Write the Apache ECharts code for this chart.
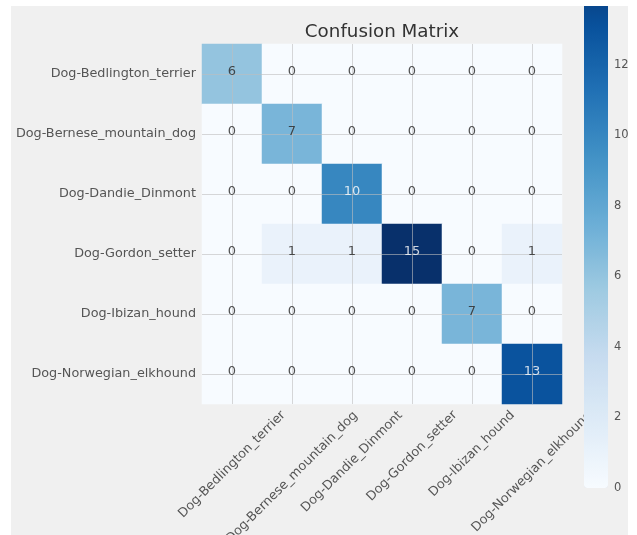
<!DOCTYPE html>
<html>
<head>
<meta charset="utf-8">
<script src="https://cdn.jsdelivr.net/npm/echarts@6/dist/echarts.min.js"></script>
<style>
  html, body { margin: 0; padding: 0; background: #ffffff; width: 637px; height: 535px; overflow: hidden; }
  #frame { position: absolute; left: 11px; top: 6px; width: 617px; height: 529px; overflow: hidden; background: #f0f0f0; }
  #chart { position: absolute; left: 0; top: -60px; width: 617px; height: 589px; }
</style>
</head>
<body>
<div id="frame"><div id="chart"></div></div>
<script>
// Class names (true labels on rows, predicted labels on columns)
const classNames = [
  'Dog-Bedlington_terrier',
  'Dog-Bernese_mountain_dog',
  'Dog-Dandie_Dinmont',
  'Dog-Gordon_setter',
  'Dog-Ibizan_hound',
  'Dog-Norwegian_elkhound'
];

// Confusion matrix counts, one array per true class
const rowBedlington = [6, 0, 0, 0, 0, 0];
const rowBernese    = [0, 7, 0, 0, 0, 0];
const rowDandie     = [0, 0, 10, 0, 0, 0];
const rowGordon     = [0, 1, 1, 15, 0, 1];
const rowIbizan     = [0, 0, 0, 0, 7, 0];
const rowNorwegian  = [0, 0, 0, 0, 0, 13];
const confusion = [rowBedlington, rowBernese, rowDandie, rowGordon, rowIbizan, rowNorwegian];

// Colour bar scale
const colorbarMin = 0;
const colorbarMax = 15;
const colorbarStep = 2;

// "Blues" colour map stops
const blues = ['#f7fbff', '#deebf7', '#c6dbef', '#9ecae1', '#6baed6', '#4292c6', '#2171b5', '#08519c', '#08306b'];

const FONT = '"DejaVu Sans", "Liberation Sans", sans-serif';
const gridLine = 'rgba(190,190,190,0.6)';

// Cells as [column, row, count]
const cells = [];
confusion.forEach((row, i) => row.forEach((v, j) => cells.push([j, i, v])));
const maxCount = Math.max(...cells.map(c => c[2]));
const thresh = maxCount / 2;

// Rotated tick labels are centred under their tick with the top of the
// rotated box just below the axis; measure each label to offset it.
const ctx = document.createElement('canvas').getContext('2d');
const tickFont = 12.8;
ctx.font = tickFont + 'px ' + FONT;
const labelH = 15;
const rich = {};
classNames.forEach((name, idx) => {
  const w = ctx.measureText(name).width;
  const dy = 0.3536 * (w + labelH);
  const p = Math.round(1.4142 * dy);
  rich['l' + idx] = { fontSize: tickFont, color: '#555555', fontFamily: FONT, padding: [p, p, 0, 0] };
});

const chart = echarts.init(document.getElementById('chart'), null, { renderer: 'canvas' });

// The drawing area is taller than the visible frame so the colour bar can run past its top
const shift = 60;
const plotLeft = 191, plotTop = 38 + shift, plotSize = 360;
const barLeft = 573, barWidth = 24, barBottom = 482 + shift, barUnit = 35.25;
const barHeight = (colorbarMax - colorbarMin) * barUnit;
const barTop = barBottom - barHeight;

chart.setOption({
  backgroundColor: '#f0f0f0',
  animation: false,
  textStyle: { fontFamily: FONT },
  title: {
    text: 'Confusion Matrix',
    left: plotLeft + plotSize / 2,
    top: 17 + shift,
    padding: 0,
    textAlign: 'center',
    textStyle: { fontSize: 18.3, fontWeight: 'normal', color: '#333333', fontFamily: FONT }
  },
  grid: [
    { left: plotLeft, top: plotTop, width: plotSize, height: plotSize, containLabel: false, outerBoundsMode: 'none' },
    { left: barLeft, top: barTop, width: barWidth, height: barHeight, containLabel: false, outerBoundsMode: 'none' }
  ],
  xAxis: [
    {
      type: 'category', gridIndex: 0, data: classNames, position: 'bottom', z: 3,
      axisLine: { show: false },
      axisTick: { show: true, inside: true, length: plotSize, alignWithLabel: true, lineStyle: { color: gridLine, width: 1 } },
      splitLine: { show: false },
      axisLabel: {
        interval: 0, rotate: 45, align: 'center', verticalAlign: 'middle', margin: 4,
        fontSize: tickFont, color: '#555555', fontFamily: FONT,
        formatter: (v, idx) => '{l' + idx + '|' + v + '}',
        rich: rich
      }
    },
    { type: 'value', gridIndex: 1, show: false, min: 0, max: 1 }
  ],
  yAxis: [
    {
      type: 'category', gridIndex: 0, data: classNames, inverse: true, z: 3,
      axisLine: { show: false },
      axisTick: { show: true, inside: true, length: plotSize, alignWithLabel: true, lineStyle: { color: gridLine, width: 1 } },
      splitLine: { show: false },
      axisLabel: { interval: 0, margin: 6, fontSize: tickFont, color: '#555555', fontFamily: FONT }
    },
    {
      type: 'value', gridIndex: 1, position: 'right',
      min: colorbarMin, max: colorbarMax, interval: colorbarStep,
      axisLine: { show: false }, axisTick: { show: false }, splitLine: { show: false },
      axisLabel: { margin: 6, fontSize: 11.5, color: '#555555', fontFamily: FONT, padding: [3, 0, 0, 0] }
    }
  ],
  visualMap: {
    type: 'continuous', seriesIndex: 0, z: 10,
    min: colorbarMin, max: colorbarMax,
    orient: 'vertical', left: barLeft, top: barTop,
    itemWidth: barWidth, itemHeight: barHeight, padding: 0,
    calculable: false, hoverLink: false,
    inRange: { color: blues },
    textStyle: { color: 'transparent' }
  },
  series: [
    {
      type: 'heatmap', xAxisIndex: 0, yAxisIndex: 0, data: cells, silent: true,
      label: { show: false }, emphasis: { disabled: true }
    },
    {
      type: 'scatter', xAxisIndex: 0, yAxisIndex: 0, z: 6, silent: true,
      symbolSize: 0,
      data: cells.map(c => ({
        value: c,
        label: { color: c[2] > thresh ? '#ffffff' : '#262626' }
      })),
      label: {
        show: true, position: 'inside', offset: [0, -2],
        fontSize: 13, fontFamily: FONT,
        formatter: p => String(p.value[2])
      }
    }
  ]
});
</script>
</body>
</html>
